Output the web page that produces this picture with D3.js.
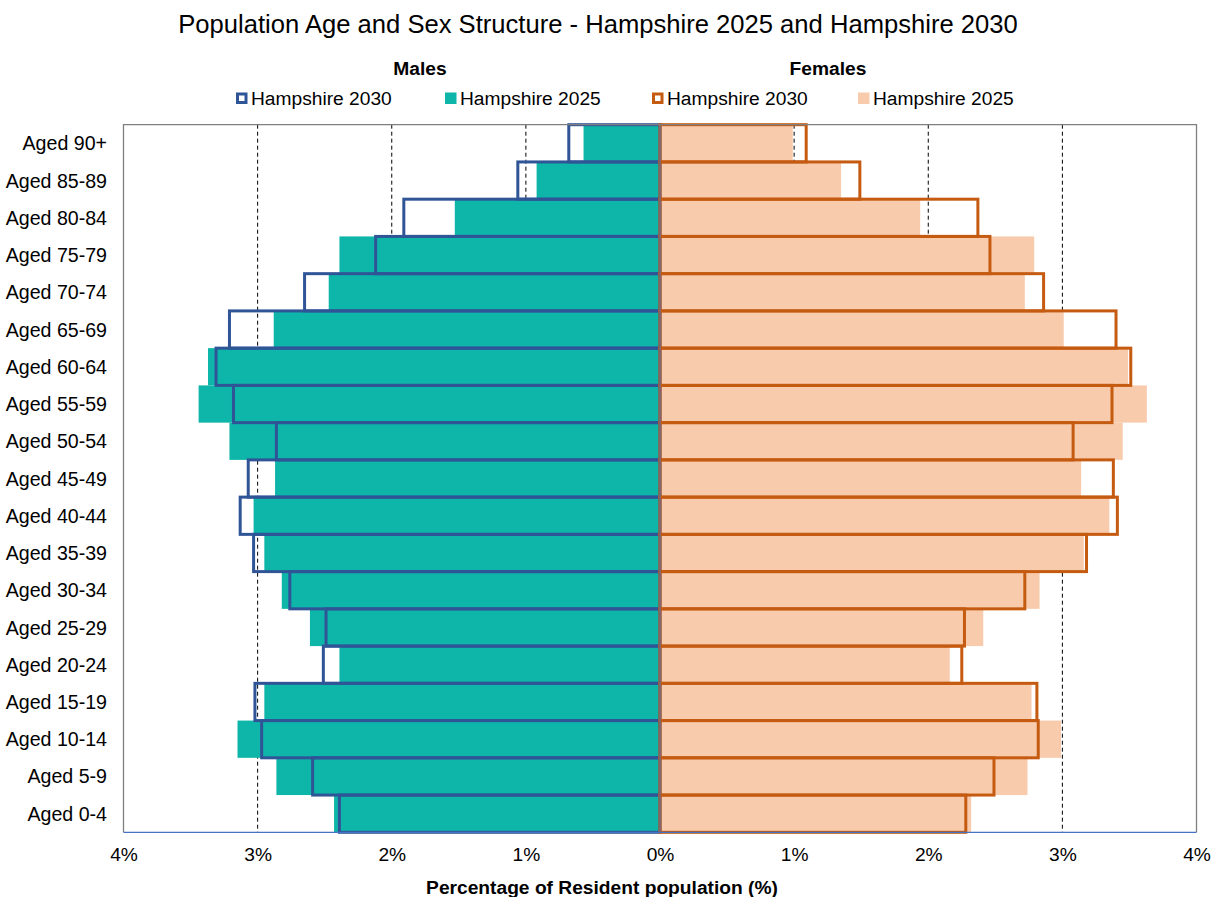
<!DOCTYPE html>
<html>
<head>
<meta charset="utf-8">
<script src="https://cdn.jsdelivr.net/npm/d3@7"></script>
<style>
  html, body { margin: 0; padding: 0; background: #fff; }
  svg { display: block; font-family: "Liberation Sans", Arial, sans-serif; }
</style>
</head>
<body>
<svg id="chart" width="1220" height="897"></svg>
<script>
// Age bands, oldest at the top
const ageGroups = ["Aged 90+", "Aged 85-89", "Aged 80-84", "Aged 75-79", "Aged 70-74",
  "Aged 65-69", "Aged 60-64", "Aged 55-59", "Aged 50-54", "Aged 45-49", "Aged 40-44",
  "Aged 35-39", "Aged 30-34", "Aged 25-29", "Aged 20-24", "Aged 15-19", "Aged 10-14",
  "Aged 5-9", "Aged 0-4"];

// Share of resident population (%)
const males2025 = [0.57, 0.92, 1.53, 2.39, 2.47, 2.88, 3.37, 3.44, 3.21, 2.87, 3.03,
  2.95, 2.82, 2.61, 2.39, 2.95, 3.15, 2.86, 2.43];
const males2030 = [0.68, 1.06, 1.91, 2.12, 2.65, 3.21, 3.31, 3.18, 2.86, 3.07, 3.13,
  3.03, 2.76, 2.49, 2.51, 3.02, 2.97, 2.59, 2.39];
const females2025 = [0.99, 1.35, 1.94, 2.79, 2.72, 3.01, 3.49, 3.63, 3.45, 3.14, 3.35,
  3.16, 2.83, 2.41, 2.16, 2.77, 2.99, 2.74, 2.32];
const females2030 = [1.09, 1.49, 2.37, 2.46, 2.86, 3.40, 3.51, 3.37, 3.08, 3.38, 3.41,
  3.18, 2.72, 2.27, 2.25, 2.81, 2.82, 2.49, 2.28];

// Axis ticks (males plotted to the left as negative values)
const tickValues = [-4, -3, -2, -1, 0, 1, 2, 3, 4];
const tickLabels = ["4%", "3%", "2%", "1%", "0%", "1%", "2%", "3%", "4%"];
const gridValues = [-3, -2, -1, 1, 2, 3];

const legendItems = [
  { label: "Hampshire 2030", fill: "none", stroke: "#2F5597" },
  { label: "Hampshire 2025", fill: "#0EB5A9", stroke: "none" },
  { label: "Hampshire 2030", fill: "none", stroke: "#C55A11" },
  { label: "Hampshire 2025", fill: "#F8CBAD", stroke: "none" }
];

const svg = d3.select("#chart");
const plot = { left: 123.5, right: 1196.5, top: 124.7, bottom: 832.3 };
const labelSize = 19.2;

const x = d3.scaleLinear().domain([-4, 4]).range([plot.left, plot.right]);
const y = d3.scaleBand().domain(ageGroups).range([plot.top, plot.bottom]).padding(0);

// Title
svg.append("text")
  .attr("x", 598).attr("y", 33)
  .attr("text-anchor", "middle")
  .attr("font-size", 25.6).attr("fill", "#000")
  .text("Population Age and Sex Structure - Hampshire 2025 and Hampshire 2030");

// Side headings
svg.append("text").attr("x", 420).attr("y", 74.5).attr("text-anchor", "middle")
  .attr("font-size", labelSize).attr("font-weight", "bold").text("Males");
svg.append("text").attr("x", 828).attr("y", 74.5).attr("text-anchor", "middle")
  .attr("font-size", labelSize).attr("font-weight", "bold").text("Females");

// Legend
const legendX = [236, 445, 652, 858];
const legend = svg.append("g");
legendItems.forEach((d, i) => {
  const g = legend.append("g").attr("transform", `translate(${legendX[i]},92.5)`);
  if (d.stroke !== "none") {
    g.append("rect").attr("x", 1.5).attr("y", 1.5).attr("width", 8.5).attr("height", 8.5)
      .attr("fill", "#fff").attr("stroke", d.stroke).attr("stroke-width", 3);
  } else {
    g.append("rect").attr("x", 0).attr("y", 0).attr("width", 11.5).attr("height", 11.5)
      .attr("fill", d.fill);
  }
  g.append("text").attr("x", 15).attr("y", 12)
    .attr("font-size", labelSize).attr("fill", "#000").text(d.label);
});

// Dashed gridlines
svg.append("g").selectAll("line").data(gridValues).join("line")
  .attr("x1", d => x(d)).attr("x2", d => x(d))
  .attr("y1", plot.top).attr("y2", plot.bottom)
  .attr("stroke", "#000").attr("stroke-width", 1)
  .attr("stroke-dasharray", "4,3");

// 2025 filled bars
const bars = svg.append("g");
bars.selectAll("rect.m25").data(males2025).join("rect").attr("class", "m25")
  .attr("x", d => x(-d)).attr("width", d => x(0) - x(-d))
  .attr("y", (d, i) => y(ageGroups[i])).attr("height", y.bandwidth())
  .attr("fill", "#0EB5A9");
bars.selectAll("rect.f25").data(females2025).join("rect").attr("class", "f25")
  .attr("x", x(0)).attr("width", d => x(d) - x(0))
  .attr("y", (d, i) => y(ageGroups[i])).attr("height", y.bandwidth())
  .attr("fill", "#F8CBAD");

// 2030 outlined bars
const outlines = svg.append("g");
outlines.selectAll("rect.m30").data(males2030).join("rect").attr("class", "m30")
  .attr("x", d => x(-d)).attr("width", d => x(0) - x(-d))
  .attr("y", (d, i) => y(ageGroups[i])).attr("height", y.bandwidth())
  .attr("fill", "none").attr("stroke", "#2F5597").attr("stroke-width", 3);
outlines.selectAll("rect.f30").data(females2030).join("rect").attr("class", "f30")
  .attr("x", x(0)).attr("width", d => x(d) - x(0))
  .attr("y", (d, i) => y(ageGroups[i])).attr("height", y.bandwidth())
  .attr("fill", "none").attr("stroke", "#C55A11").attr("stroke-width", 3);

// Central axis line
svg.append("line")
  .attr("x1", x(0)).attr("x2", x(0)).attr("y1", plot.top).attr("y2", plot.bottom)
  .attr("stroke", "#4472C4").attr("stroke-width", 1);

// Plot frame
svg.append("path")
  .attr("d", `M${plot.left},${plot.bottom}V${plot.top}H${plot.right}V${plot.bottom}`)
  .attr("fill", "none").attr("stroke", "#7F7F7F").attr("stroke-width", 1.3);
svg.append("line")
  .attr("x1", plot.left).attr("x2", plot.right).attr("y1", plot.bottom).attr("y2", plot.bottom)
  .attr("stroke", "#4472C4").attr("stroke-width", 1.3);

// X axis labels
const xAxis = d3.axisBottom(x).tickValues(tickValues)
  .tickFormat((d, i) => tickLabels[i]).tickSize(0).tickPadding(0);
const xg = svg.append("g").attr("transform", `translate(0,${plot.bottom})`).call(xAxis);
xg.select(".domain").remove();
xg.selectAll("text").attr("font-family", "Liberation Sans, Arial, sans-serif")
  .attr("font-size", labelSize).attr("fill", "#000").attr("dy", null).attr("y", 28.8);

// Y axis labels
const yAxis = d3.axisLeft(y).tickSize(0).tickPadding(0);
const yg = svg.append("g").attr("transform", "translate(107,0)").call(yAxis);
yg.select(".domain").remove();
yg.selectAll("text").attr("font-family", "Liberation Sans, Arial, sans-serif")
  .attr("font-size", 19.6).attr("fill", "#000").attr("x", 0).attr("dy", "0.36em");

// X axis title
svg.append("text").attr("x", 602).attr("y", 893.5)
  .attr("text-anchor", "middle").attr("font-size", labelSize).attr("font-weight", "bold")
  .text("Percentage of Resident population (%)");
</script>
</body>
</html>
